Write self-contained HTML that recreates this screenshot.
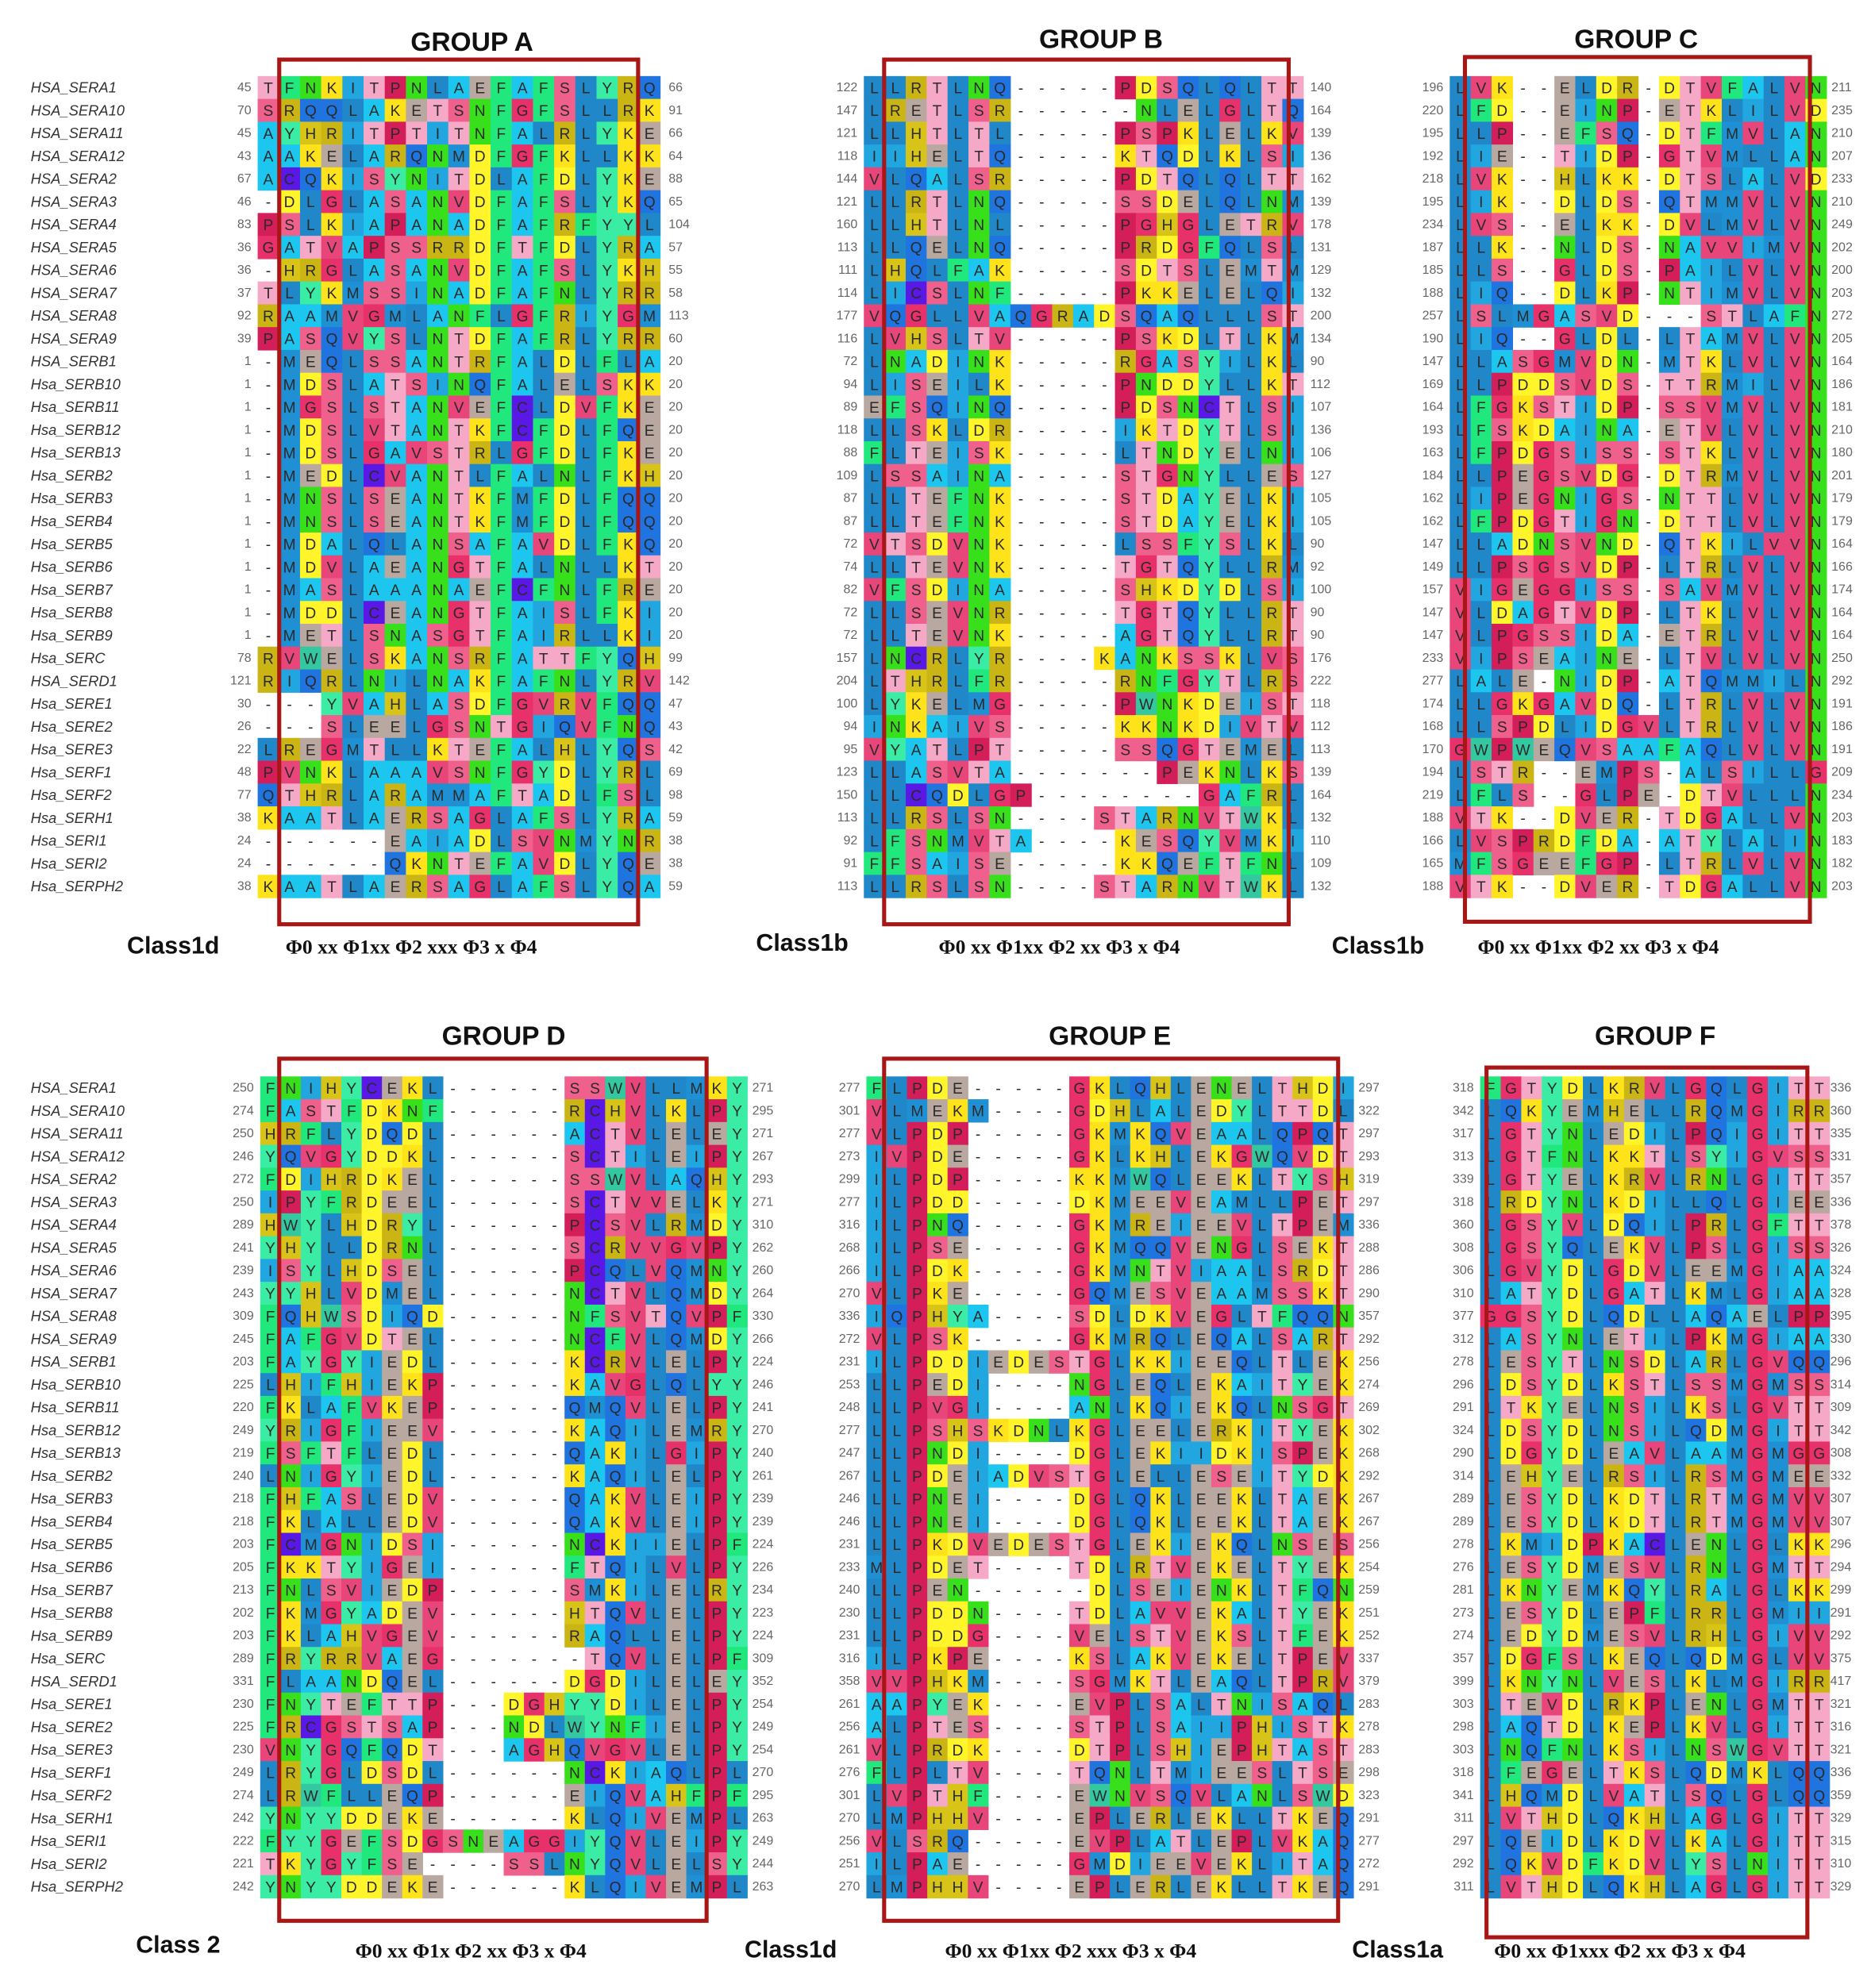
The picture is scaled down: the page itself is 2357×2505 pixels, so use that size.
<!DOCTYPE html>
<html><head><meta charset="utf-8"><style>
html,body{margin:0;padding:0;background:#fff}
svg{display:block}
</style></head><body>
<svg id="fig" xmlns="http://www.w3.org/2000/svg" width="2357" height="2505" viewBox="0 0 1475 1568"></svg>
<script>
const names=["HSA_SERA1","HSA_SERA10","HSA_SERA11","HSA_SERA12","HSA_SERA2","HSA_SERA3","HSA_SERA4","HSA_SERA5","HSA_SERA6","HSA_SERA7","HSA_SERA8","HSA_SERA9","HSA_SERB1","Hsa_SERB10","Hsa_SERB11","Hsa_SERB12","Hsa_SERB13","Hsa_SERB2","Hsa_SERB3","Hsa_SERB4","Hsa_SERB5","Hsa_SERB6","Hsa_SERB7","Hsa_SERB8","Hsa_SERB9","Hsa_SERC","HSA_SERD1","Hsa_SERE1","Hsa_SERE2","Hsa_SERE3","Hsa_SERF1","Hsa_SERF2","Hsa_SERH1","Hsa_SERI1","Hsa_SERI2","Hsa_SERPH2"];
const seqA=["TFNKITPNLAEFAFSLYRQ","SRQQLAKETSNFGFSLLRK","AYHRITPTITNFALRLYKE","AAKELARQNMDFGFKLLKK","ACQKISYNITDLAFDLYKE","-DLGLASANVDFAFSLYKQ","PSLKIAPANADFAFRFYYL","GATVAPSSRRDFTFDLYRA","-HRGLASANVDFAFSLYKH","TLYKMSSINADFAFNLYRR","RAAMVGMLANFLGFRIYGM","PASQVYSLNTDFAFRLYRR","-MEQLSSANTRFALDLFLA","-MDSLATSINQFALELSKK","-MGSLSTANVEFCLDVFKE","-MDSLVTANTKFCFDLFQE","-MDSLGAVSTRLGFDLFKE","-MEDLCVANTLFALNLFKH","-MNSLSEANTKFMFDLFQQ","-MNSLSEANTKFMFDLFQQ","-MDALQLANSAFAVDLFKQ","-MDVLAEANGTFALNLLKT","-MASLAAANAEFCFNLFRE","-MDDLCEANGTFAISLFKI","-METLSNASGTFAIRLLKI","RVWELSKANSRFATTFYQH","RIQRLNILNAKFAFNLYRV","---YVAHLASDFGVRVFQQ","---SLEELGSNTGIQVFNQ","LREGMTLLKTEFALHLYQS","PVNKLAAAVSNFGYDLYRL","QTHRLARAMMAFTADLFSL","KAATLAERSAGLAFSLYRA","------EAIADLSVNMYNR","------QKNTEFAVDLYQE","KAATLAERSAGLAFSLYQA"];
const startA=[45,70,45,43,67,46,83,36,36,37,92,39,1,1,1,1,1,1,1,1,1,1,1,1,1,78,121,30,26,22,48,77,38,24,24,38];
const endA=[66,91,66,64,88,65,104,57,55,58,113,60,20,20,20,20,20,20,20,20,20,20,20,20,20,99,142,47,43,42,69,98,59,38,38,59];
const seqB=["LLRTLNQ-----PDSQLQLTT","LRETLSR------NLELGLTQ","LLHTLTL-----PSPKLELKV","IIHELTQ-----KTQDLKLSI","VLQALSR-----PDTQLQLTT","LLRTLNQ-----SSDELQLNM","LLHTLNL-----PGHGLETRV","LLQELNQ-----PRDGFQLSL","LHQLFAK-----SDTSLEMTM","LICSLNF-----PKKELELQI","VQGLLVAQGRADSQAQLLLST","LVHSLTV-----PSKDLTLKM","LNADINK-----RGASYILKL","LISEILK-----PNDDYLLKT","EFSQINQ-----PDSNCTLSI","LLSKLDR-----IKTDYTLSI","FLTEISK-----LTNDYELNI","LSSAINA-----STGNYLLES","LLTEFNK-----STDAYELKI","LLTEFNK-----STDAYELKI","VTSDVNK-----LSSFYSLKL","LLTEVNK-----TGTQYLLRM","VFSDINA-----SHKDYDLSI","LLSEVNR-----TGTQYLLRT","LLTEVNK-----AGTQYLLRT","LNCRLYR----KANKSSKLVS","LTHRLFR-----RNFGYTLRS","LYKELMG-----PWNKDEIST","INKAIVS-----KKNKDIVTV","VYATLPT-----SSQGTEMEL","LLASVTA-------PEKNLKS","LLCQDLGP--------GAFRL","LLRSLSN----STARNVTWKL","LFSNMVTA----KESQYVMKI","FFSAISE-----KKQEFTFNL","LLRSLSN----STARNVTWKL"];
const startB=[122,147,121,118,144,121,160,113,111,114,177,116,72,94,89,118,88,109,87,87,72,74,82,72,72,157,204,100,94,95,123,150,113,92,91,113];
const endB=[140,164,139,136,162,139,178,131,129,132,200,134,90,112,107,136,106,127,105,105,90,92,100,90,90,176,222,118,112,113,139,164,132,110,109,132];
const seqC=["LVK--ELDR-DTVFALVN","LFD--EINP-ETKLILVD","LLP--EFSQ-DTFMVLAN","LIE--TIDP-GTVMLLAN","LVK--HLKK-DTSLALVD","LIK--DLDS-QTMMVLVN","LVS--ELKK-DVLMVLVN","LLK--NLDS-NAVVIMVN","LLS--GLDS-PAILVLVN","LIQ--DLKP-NTIMVLVN","LSLMGASVD---STLAFN","LIQ--GLDL-LTAMVLVN","LLASGMVDN-MTKLVLVN","LLPDDSVDS-TTRMILVN","LFGKSTIDP-SSVMVLVN","LFSKDAINA-ETVLVLVN","LFPDGSISS-STKLVLVN","LLPEGSVDG-DTRMVLVN","LIPEGNIGS-NTTLVLVN","LFPDGTIGN-DTTLVLVN","LLADNSVND-QTKILVVN","LLPSGSVDP-LTRLVLVN","VIGEGGISS-SAVMVLVN","VLDAGTVDP-LTKLVLVN","VLPGSSIDA-ETRLVLVN","VIPSEAINE-LTVLVLVN","LALE-NIDP-ATQMMILN","LLGKGAVDQ-LTRLVLVN","LLSPDLIDGVLTRLVLVN","GWPWEQVSAAFAQLVLVN","LSTR--EMPS-ALSILLG","LFLS--GLPE-DTVLLLN","VTK--DVER-TDGALLVN","LVSPRDFDA-ATYLALIN","MFSGEEFGP-LTRLVLVN","VTK--DVER-TDGALLVN"];
const startC=[196,220,195,192,218,195,234,187,185,188,257,190,147,169,164,193,163,184,162,162,147,149,157,147,147,233,277,174,168,170,194,219,188,166,165,188];
const endC=[211,235,210,207,233,210,249,202,200,203,272,205,164,186,181,210,180,201,179,179,164,166,174,164,164,250,292,191,186,191,209,234,203,183,182,203];
const seqD=["FNIHYCEKL------SSWVLLMKY","FASTFDKNF------RCHVLKLPY","HRFLYDQDL------ACTVLELEY","YQVGYDDKL------SCTILEIPY","FDIHRDKEL------SSWVLAQHY","IPYFRDEEL------SCTVVELKY","HWYLHDRYL------PCSVLRMDY","YHYLLDRNL------SCRVVGVPY","ISYLHDSEL------PCQLVQMNY","YYHLVDMEL------NCTVLQMDY","FQHWSDIQD------NFSVTQVPF","FAFGVDTEL------NCFVLQMDY","FAYGYIEDL------KCRVLELPY","LHIFHIEKP------KAVGLQLYY","FKLAFVKEP------QMQVLELPY","YRIGFIEEV------KAQILEMRY","FSFTFLEDL------QAKILGIPY","LNIGYIEDL------KAQILELPY","FHFASLEDV------QAKVLEIPY","FKLALLEDV------QAKVLEIPY","FCMGNIDSI------NCKIIELPF","FKKTYIGEI------FTQILVLPY","FNLSVIEDP------SMKILELRY","FKMGYADEV------HTQVLELPY","FKLAHVGEV------RAQLLELPY","FRYRRVAEG-------TQVLELPF","FLAANDQEL------DGDILELEY","FNYTEFTTP---DGHYYDILELPY","FRCGSTSAP---NDLWYNFIELPY","VNYGQFQDT---AGHQVGVLELPY","LRYGLDSDL------NCKIAQLPL","LRWFLLEQP------EIQVAHFPF","YNYYDDEKE------KLQIVEMPL","FYYGEFSDGSNEAGGIYQVLEIPY","TKYGYFSE----SSLNYQVLELSY","YNYYDDEKE------KLQIVEMPL"];
const startD=[250,274,250,246,272,250,289,241,239,243,309,245,203,225,220,249,219,240,218,218,203,205,213,202,203,289,331,230,225,230,249,274,242,222,221,242];
const endD=[271,295,271,267,293,271,310,262,260,264,330,266,224,246,241,270,240,261,239,239,224,226,234,223,224,309,352,254,249,254,270,295,263,249,244,263];
const seqE=["FLPDE-----GKLQHLENELTHDI","VLMEKM----GDHLALEDYLTTDL","VLPDP-----GKMKQVEAALQPQT","IVPDE-----GKLKHLEKGWQVDT","ILPDP-----KKMWQLEEKLTYSH","ILPDD-----DKMEEVEAMLLPET","ILPNQ-----GKMREIEEVLTPEM","ILPSE-----GKMQQVENGLSEKT","ILPDK-----GKMNTVIAALSRDT","VLPKE-----GQMESVEAAMSSKT","IQPHYA----SDLDKVEGLTFQQN","VLPSK-----GKMRQLEQALSART","ILPDDIEDESTGLKKIEEQLTLEK","LLPEDI----NGLEQLEKAITYEK","LLPVGI----ANLKQIEKQLNSGT","LLPSHSKDNLKGLEELERKITYEK","LLPNDI----DGLEKIIDKISPEK","LLPDEIADVSTGLELLESEITYDK","LLPNEI----DGLQKLEEKLTAEK","LLPNEI----DGLQKLEEKLTAEK","LLPKDVEDESTGLEKIEKQLNSES","MLPDET----TDLRTVEKELTYEK","LLPEN------DLSEIENKLTFQN","LLPDDN----TDLAVVEKALTYEK","LLPDDG----VELSTVEKSLTFEK","ILPKPE----KSLAKVEKELTPEV","VVPHKM----SGMKTLEAQLTPRV","AAPYEK----EVPLSALTNISAQL","ALPTES----STPLSAIIPHISTK","VLPRDK----DTPLSHIEPHTAST","FLPLTV----TQNLTMIEESLTSE","LVPTHF----EWNVSQVLANLSWD","LMPHHV----EPLERLEKLLTKEQ","VLSRQ-----EVPLATLEPLVKAQ","ILPAE-----GMDIEEVEKLITAQ","LMPHHV----EPLERLEKLLTKEQ"];
const startE=[277,301,277,273,299,277,316,268,266,270,336,272,231,253,248,277,247,267,246,246,231,233,240,230,231,316,358,261,256,261,276,301,270,256,251,270];
const endE=[297,322,297,293,319,297,336,288,286,290,357,292,256,274,269,302,268,292,267,267,256,254,259,251,252,337,379,283,278,283,298,323,291,277,272,291];
const seqF=["FGTYDLKRVLGQLGITT","LQKYEMHELLRQMGIRR","LGTYNLEDILPQIGITT","LGTFNLKKTLSYIGVSS","LGTYELKRVLRNLGITT","LRDYNLKDILLQLGIEE","LGSYVLDQILPRLGFTT","LGSYQLEKVLPSLGISS","LGVYDLGDVLEEMGIAA","LATYDLGATLKMLGIAA","GGSYDLQDLLAQAELPP","LASYNLETILPKMGIAA","LESYTLNSDLARLGVQQ","LDSYDLKSTLSSMGMSS","LTKYELNSILKSLGVTT","LDSYDLNSILQDMGITT","LDGYDLEAVLAAMGMGG","LEHYELRSILRSMGMEE","LESYDLKDTLRTMGMVV","LESYDLKDTLRTMGMVV","LKMIDPKACLENLGLKK","LESYDMESVLRNLGMTT","LKNYEMKQYLRALGLKK","LESYDLEPFLRRLGMII","LEDYDMESVLRHLGIVV","LDGFSLKEQLQDMGLVV","LKNYNLVESLKLMGIRR","LTEVDLRKPLENLGMTT","LAQTDLKEPLKVLGITT","LNQFNLKSILNSWGVTT","LFEGELTKSLQDMKLQQ","LHQMDLVATLSQLGLQQ","LVTHDLQKHLAGLGITT","LQEIDLKDVLKALGITT","LQKVDFKDVLYSLNITT","LVTHDLQKHLAGLGITT"];
const startF=[318,342,317,313,339,318,360,308,306,310,377,312,278,296,291,324,290,314,289,289,278,276,281,273,274,357,399,303,298,303,318,341,311,297,292,311];
const endF=[336,360,335,331,357,336,378,326,324,328,395,330,296,314,309,342,308,332,307,307,296,294,299,291,292,375,417,321,316,321,336,359,329,315,310,329];

const colors={A:"#1cc6ee",R:"#cbb515",N:"#38e01c",D:"#fff52a",C:"#5a18e6",Q:"#1f74e0",E:"#b8a8a0",G:"#e8306a",H:"#d8c418",I:"#22a6e0",L:"#2088c8",K:"#ffe31a",M:"#2090d4",F:"#20e87c",P:"#d41e5a",S:"#f0608c",T:"#f6a9c6",W:"#34c8a0",Y:"#3aeca4",V:"#e8467a"};
const NS="http://www.w3.org/2000/svg";
const svg=document.getElementById('fig');
function mk(tag,attrs,parent){const e=document.createElementNS(NS,tag);for(const k in attrs)e.setAttribute(k,attrs[k]);(parent||svg).appendChild(e);return e;}

const blocks=[
 {id:'a',seq:seqA,st:startA,en:endA,x0:203,cw:16.7,y0:69,numR:198,endX:527,title:'GROUP A',tx:372,ty:40,box:[220,47,503,729],cls:'Class1d',cx:100,cy:752,f:'Φ0 xx Φ1xx Φ2 xxx Φ3 x Φ4',fx:225,fy:752,names:true},
 {id:'b',seq:seqB,st:startB,en:endB,x0:681,cw:16.5,y0:69,numR:676,endX:1033,title:'GROUP B',tx:868,ty:38,box:[697,47,1016,729],cls:'Class1b',cx:596,cy:750,f:'Φ0 xx Φ1xx Φ2 xx Φ3 x Φ4',fx:740,fy:752},
 {id:'c',seq:seqC,st:startC,en:endC,x0:1143,cw:16.5,y0:69,numR:1138,endX:1444,title:'GROUP C',tx:1290,ty:38,box:[1155,45,1427,727],cls:'Class1b',cx:1050,cy:752,f:'Φ0 xx Φ1xx Φ2 xx Φ3 x Φ4',fx:1165,fy:752},
 {id:'d',seq:seqD,st:startD,en:endD,x0:205,cw:16,y0:858,numR:200,endX:593,title:'GROUP D',tx:397,ty:824,box:[220,835,557,1515],cls:'Class 2',cx:107,cy:1540,f:'Φ0 xx Φ1x Φ2 xx Φ3 x Φ4',fx:280,fy:1544,names:true},
 {id:'e',seq:seqE,st:startE,en:endE,x0:683,cw:16,y0:858,numR:678,endX:1071,title:'GROUP E',tx:875,ty:824,box:[697,835,1055,1515],cls:'Class1d',cx:587,cy:1544,f:'Φ0 xx Φ1xx Φ2 xxx Φ3 x Φ4',fx:745,fy:1544},
 {id:'f',seq:seqF,st:startF,en:endF,x0:1167,cw:16.2,y0:858,numR:1162,endX:1443,title:'GROUP F',tx:1305,ty:824,box:[1172,842,1425,1528],cls:'Class1a',cx:1066,cy:1544,f:'Φ0 xx Φ1xxx Φ2 xx Φ3 x Φ4',fx:1178,fy:1544}
];
const RH=18;
blocks.forEach(b=>{
  const g=mk('g',{});
  
  
  const t=mk('text',{x:b.tx,y:b.ty,'text-anchor':'middle','font-family':'Liberation Sans, sans-serif','font-weight':'bold','font-size':21,fill:'#111'},g);
  t.textContent=b.title;
  
  
  b.seq.forEach((s,i)=>{
    const cy=b.y0+i*RH;
    const row=mk('g',{},g);
    
    
    if(b.names){
      const n=mk('text',{x:24,y:cy+4,'font-family':'Liberation Sans, sans-serif','font-style':'italic','font-size':11.5,fill:'#333'},row);
      n.textContent=names[i];
      
      
    }
    const sn=mk('text',{x:b.numR,y:cy+3,'text-anchor':'end','font-family':'Liberation Sans, sans-serif','font-size':10,fill:'#666'},row);
    sn.textContent=b.st[i];
    
    
    for(let j=0;j<s.length;j++){
      const ch=s[j];
      const x=b.x0+j*b.cw;
      if(ch!=='-'){
        const r=mk('rect',{x:x,y:cy-RH/2,width:b.cw+0.4,height:RH+0.4,fill:colors[ch]||'#ccc'},row);
        
        
      }
      const tt=mk('text',{x:x+b.cw/2,y:cy+4.5,'text-anchor':'middle','font-family':'Liberation Sans, sans-serif','font-size':12,fill:'#2a2a2a'},row);
      tt.textContent=ch;
      
      
    }
    const en=mk('text',{x:b.endX,y:cy+3,'font-family':'Liberation Sans, sans-serif','font-size':10,fill:'#666'},row);
    en.textContent=b.en[i];
    
    
  });
  const bx=mk('rect',{x:b.box[0],y:b.box[1],width:b.box[2]-b.box[0],height:b.box[3]-b.box[1],fill:'none',stroke:'#a81616','stroke-width':3.2},g);
  
  
  const c=mk('text',{x:b.cx,y:b.cy,'font-family':'Liberation Sans, sans-serif','font-weight':'bold','font-size':19,fill:'#111'},g);
  c.textContent=b.cls;
  
  
  const f=mk('text',{x:b.fx,y:b.fy,'font-family':'Liberation Serif, serif','font-weight':'bold','font-size':16,fill:'#111'},g);
  f.textContent=b.f;
  
  
});
</script>
</body></html>
